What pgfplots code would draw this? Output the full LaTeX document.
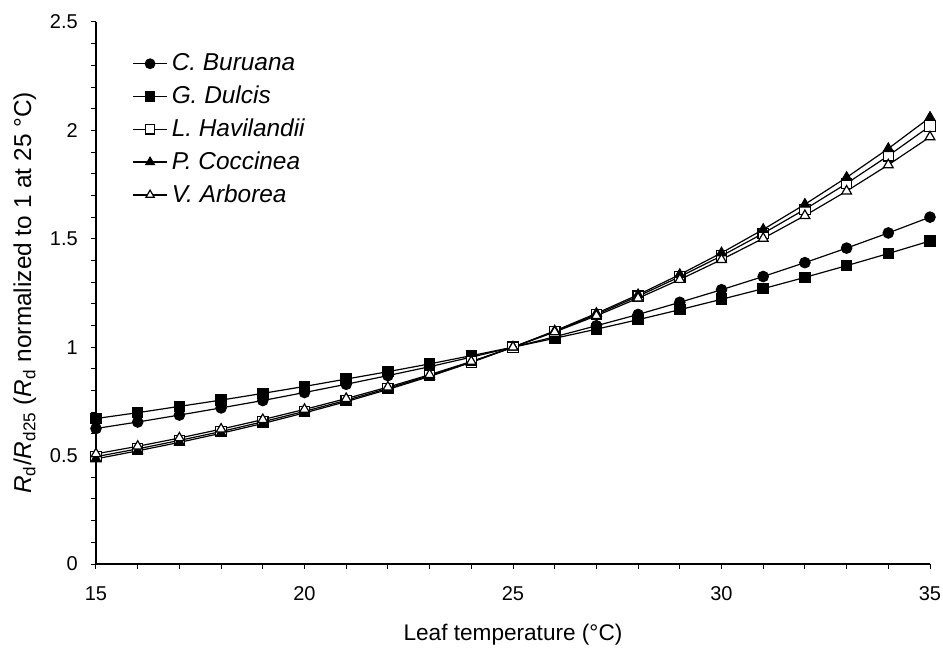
\documentclass[border=0pt]{standalone}
\usepackage{fontspec}
\setmainfont{Liberation Sans}
\usepackage{pgfplots}
\pgfplotsset{compat=1.18}
\begin{document}
\begin{tikzpicture}
\begin{axis}[
  scale only axis,
  width=417pt, height=271pt,
  xmin=15, xmax=35, ymin=0, ymax=2.5,
  axis x line*=bottom, axis y line*=left,
  axis line style={-, line width=0.6pt},
  xtick={15,20,25,30,35},
  ytick={0,0.5,1,1.5,2,2.5},
  minor x tick num=4, minor y tick num=4,
  tick align=outside,
  major tick length=2.6pt, minor tick length=2.6pt,
  tick style={black, line width=0.5pt},
  /pgf/number format/assume math mode=true,
  ticklabel style={font=\fontsize{10}{12}\selectfont},
  xticklabel style={yshift=-5pt},
  yticklabel style={xshift=-3pt},
  xlabel={Leaf temperature (°C)},
  ylabel={\textit{R}\textsubscript{d}/\textit{R}\textsubscript{d25} (\textit{R}\textsubscript{d} normalized to 1 at 25 °C)},
  xlabel style={font=\fontsize{11.3}{13}\selectfont, yshift=-5pt},
  ylabel style={font=\fontsize{12.2}{13}\selectfont, yshift=0pt},
  legend style={at={(0.036,0.957)}, anchor=north west, draw=none, fill=none,
    font=\fontsize{12.2}{13.5}\selectfont, row sep=2.1pt},
  legend cell align=left,
  legend image post style={mark size=2.4pt},
]
\addplot[black, line width=0.6pt, mark size=2.6pt, mark=*, mark options={fill=black, solid}] coordinates {
(15,0.625)(16,0.655)(17,0.687)(18,0.720)(19,0.754)(20,0.791)(21,0.829)(22,0.869)(23,0.910)(24,0.954)(25,1.000)
(26,1.048)(27,1.099)(28,1.151)(29,1.207)(30,1.265)(31,1.326)(32,1.390)(33,1.457)(34,1.527)(35,1.600)};
\addlegendentry{\textit{C. Buruana}}
\addplot[black, line width=0.6pt, mark size=2.6pt, mark=square*, mark options={fill=black, solid}] coordinates {
(15,0.671)(16,0.698)(17,0.727)(18,0.756)(19,0.787)(20,0.819)(21,0.853)(22,0.887)(23,0.923)(24,0.961)(25,1.000)
(26,1.041)(27,1.083)(28,1.127)(29,1.173)(30,1.221)(31,1.270)(32,1.322)(33,1.376)(34,1.432)(35,1.490)};
\addlegendentry{\textit{G. Dulcis}}
\addplot[black, line width=0.6pt, mark size=2.6pt, mark=square*, mark options={fill=white, solid}] coordinates {
(15,0.495)(16,0.531)(17,0.570)(18,0.611)(19,0.656)(20,0.704)(21,0.755)(22,0.810)(23,0.869)(24,0.932)(25,1.000)
(26,1.073)(27,1.151)(28,1.235)(29,1.325)(30,1.421)(31,1.525)(32,1.636)(33,1.755)(34,1.883)(35,2.020)};
\addlegendentry{\textit{L. Havilandii}}
\addplot[black, line width=0.6pt, mark size=2.8pt, mark=triangle*, mark options={fill=black, solid}] coordinates {
(15,0.485)(16,0.522)(17,0.561)(18,0.603)(19,0.648)(20,0.697)(21,0.749)(22,0.805)(23,0.865)(24,0.930)(25,1.000)
(26,1.075)(27,1.156)(28,1.242)(29,1.335)(30,1.435)(31,1.543)(32,1.659)(33,1.783)(34,1.916)(35,2.060)};
\addlegendentry{\textit{P. Coccinea}}
\addplot[black, line width=0.6pt, mark size=2.8pt, mark=triangle*, mark options={fill=white, solid}] coordinates {
(15,0.508)(16,0.543)(17,0.581)(18,0.622)(19,0.666)(20,0.713)(21,0.763)(22,0.816)(23,0.873)(24,0.934)(25,1.000)
(26,1.070)(27,1.145)(28,1.226)(29,1.312)(30,1.404)(31,1.502)(32,1.607)(33,1.720)(34,1.841)(35,1.970)};
\addlegendentry{\textit{V. Arborea}}
\end{axis}
\pgfresetboundingbox
\path ([xshift=-48pt, yshift=-42pt]current axis.south west) rectangle ([xshift=6.5pt, yshift=11pt]current axis.north east);
\end{tikzpicture}
\end{document}
